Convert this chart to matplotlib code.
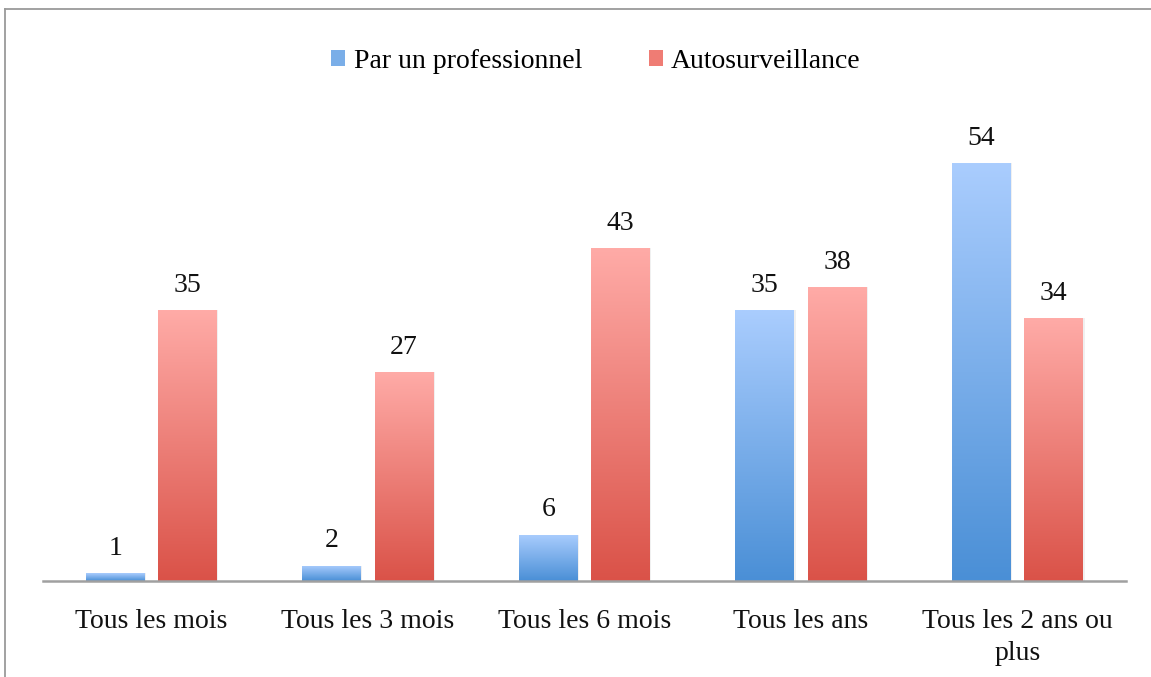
import matplotlib
matplotlib.use("Agg")
import matplotlib.pyplot as plt
import numpy as np
from matplotlib.colors import LinearSegmentedColormap
from matplotlib.patches import Rectangle
from matplotlib.lines import Line2D

categories = ["Tous les mois", "Tous les 3 mois", "Tous les 6 mois", "Tous les ans", "Tous les 2 ans ou\nplus"]
series_names = ["Par un professionnel", "Autosurveillance"]
pro_values = [1, 2, 6, 35, 54]
auto_values = [35, 27, 43, 38, 34]

plt.rcParams['font.family'] = ['Liberation Serif', 'DejaVu Serif']

W, H = 1151, 677
fig = plt.figure(figsize=(W / 100, H / 100), dpi=100)
ax = fig.add_axes([43 / W, 96 / H, (1126 - 43) / W, 464 / H])

ymax = 60
FS = 20

cmap_blue = LinearSegmentedColormap.from_list("b", ["#4a8fd6", "#aacdfe"])
cmap_red = LinearSegmentedColormap.from_list("r", ["#da5248", "#ffaba7"])

bw = 0.272
off = 0.167
x = np.arange(len(categories))
grad = np.linspace(0, 1, 256).reshape(-1, 1)

def draw_bars(xs, vals, cmap):
    bars = ax.bar(xs, vals, width=bw, color="none", edgecolor="none", zorder=2)
    for b, v in zip(bars, vals):
        x0 = b.get_x()
        ax.add_patch(Rectangle((x0 + 0.006, 0), bw, v, facecolor="#000000", alpha=0.06,
                               edgecolor="none", zorder=1.5))
        im = ax.imshow(grad, cmap=cmap, origin="lower", aspect="auto",
                       extent=(x0, x0 + bw, 0, v), zorder=2, interpolation="bilinear")
        im.set_clip_path(b)
        ax.annotate(str(v), (b.get_x() + bw / 2, v), xytext=(0, 9), textcoords="offset points",
                    ha="center", va="bottom", fontsize=FS, color="#111111")
    return bars

draw_bars(x - off, pro_values, cmap_blue)
draw_bars(x + off, auto_values, cmap_red)
ax.set_xlim(-0.5, len(categories) - 0.5)
ax.set_ylim(0, ymax)

for s in ["top", "right", "left"]:
    ax.spines[s].set_visible(False)
ax.spines["bottom"].set_color("#a0a0a0")
ax.spines["bottom"].set_linewidth(1.8)
ax.spines["bottom"].set_zorder(3)
ax.set_yticks([])
ax.set_xticks(x)
ax.set_xticklabels(categories, fontsize=FS, color="#111111", linespacing=1.4)
ax.tick_params(axis="x", length=0, pad=20)

handles = [Rectangle((0, 0), 1, 1, facecolor="#7aaee8", edgecolor="none"),
           Rectangle((0, 0), 1, 1, facecolor="#ef7c74", edgecolor="none")]
leg = fig.legend(handles, series_names, loc="center", bbox_to_anchor=(596 / W, 1 - 61 / H),
                 ncol=2, frameon=False, fontsize=FS, handlelength=0.5, handleheight=0.5,
                 handletextpad=0.3, columnspacing=2.4)

fig.add_artist(Line2D([5 / W, 1.0], [1 - 9 / H, 1 - 9 / H], transform=fig.transFigure,
                      color="#9a9a9a", linewidth=1.3))
fig.add_artist(Line2D([5 / W, 5 / W], [0, 1 - 9 / H], transform=fig.transFigure,
                      color="#9a9a9a", linewidth=1.3))

fig.savefig("out.png", dpi=100)
